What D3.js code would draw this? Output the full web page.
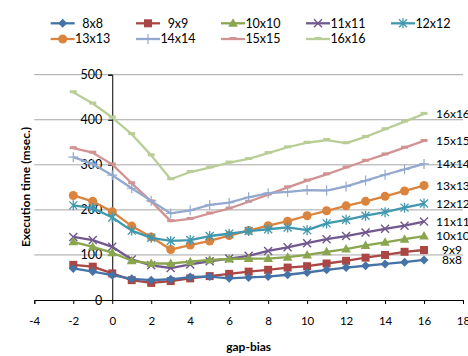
<!DOCTYPE html>
<html>
<head>
<meta charset="utf-8">
<script src="https://cdn.jsdelivr.net/npm/d3@7"></script>
<style>
  html, body { margin: 0; padding: 0; background: #fff; }
  svg { display: block; font-family: Lato, "Open Sans", sans-serif; }
</style>
</head>
<body>
<svg id="chart" width="468" height="356"></svg>
<script>
// gap-bias values shared by every series
const gapBias = [-2, -1, 0, 1, 2, 3, 4, 5, 6, 7, 8, 9, 10, 11, 12, 13, 14, 15, 16];

// execution time (msec.) per block size
const t8x8   = [70, 63, 55, 47, 44, 46, 51, 52, 48, 50, 52, 56, 61, 67, 72, 76, 80, 84, 89];
const t9x9   = [78, 74, 59, 44, 38, 42, 48, 53, 58, 63, 67, 72, 75, 81, 87, 94, 100, 107, 111];
const t10x10 = [129, 118, 105, 87, 81, 81, 85, 89, 91, 92, 92, 95, 100, 107, 113, 121, 128, 135, 142];
const t11x11 = [140, 133, 118, 90, 77, 71, 79, 86, 92, 98, 109, 117, 126, 135, 142, 150, 158, 165, 174];
const t12x12 = [210, 204, 183, 154, 138, 131, 133, 142, 147, 153, 157, 161, 155, 170, 178, 187, 195, 205, 214];
const t13x13 = [232, 219, 196, 164, 140, 112, 122, 131, 143, 154, 165, 175, 187, 198, 209, 219, 230, 242, 254];
const t14x14 = [317, 302, 277, 248, 220, 192, 199, 211, 216, 228, 237, 240, 244, 243, 252, 265, 278, 290, 302];
const t15x15 = [337, 327, 301, 259, 219, 175, 180, 192, 203, 218, 234, 250, 265, 279, 294, 309, 323, 338, 353];
const t16x16 = [461, 436, 405, 368, 321, 268, 284, 294, 305, 313, 326, 339, 349, 355, 348, 362, 379, 396, 413];

const seriesNames = ["8x8", "9x9", "10x10", "11x11", "12x12", "13x13", "14x14", "15x15", "16x16"];
const seriesValues = [t8x8, t9x9, t10x10, t11x11, t12x12, t13x13, t14x14, t15x15, t16x16];
const seriesColors = ["#4572A7", "#AA4643", "#89A54E", "#71588F", "#4198AF", "#DB843D", "#93A9CF", "#D19392", "#B9CD96"];
const seriesMarkers = ["diamond", "square", "triangle", "x", "asterisk", "circle", "plus", "dash", "dash"];

const xTicks = [-4, -2, 0, 2, 4, 6, 8, 10, 12, 14, 16, 18];
const yTicks = [0, 100, 200, 300, 400, 500];

const svg = d3.select("#chart");
const x = d3.scaleLinear().domain([-4, 18]).range([34.3, 463]);
const y = d3.scaleLinear().domain([0, 500]).range([300, 74.7]);

// horizontal gridlines
svg.append("g").selectAll("line").data(yTicks.filter(v => v > 0)).join("line")
  .attr("x1", x(-4)).attr("x2", x(18))
  .attr("y1", d => y(d)).attr("y2", d => y(d))
  .attr("stroke", "#a6a6a6").attr("stroke-width", 1);

// x axis along y = 0
const xAxis = svg.append("g").attr("transform", `translate(0,${y(0)})`)
  .call(d3.axisBottom(x).tickValues(xTicks).tickSize(4).tickPadding(13).tickFormat(d3.format("d")));
xAxis.select(".domain").attr("stroke", "#000");
xAxis.selectAll(".tick line").attr("stroke", "#000");
xAxis.selectAll(".tick text").attr("font-size", 11.5).attr("fill", "#000")
  .attr("font-family", "Lato, sans-serif").text(d => d < 0 ? "-" + Math.abs(d) : d);

// y axis along x = 0
const yAxis = svg.append("g").attr("transform", `translate(${x(0)},0)`)
  .call(d3.axisLeft(y).tickValues(yTicks).tickSize(4).tickPadding(6).tickFormat(d3.format("d")));
yAxis.select(".domain").attr("stroke", "#000");
yAxis.selectAll(".tick line").attr("stroke", "#000");
yAxis.selectAll(".tick text").attr("font-size", 12.5).attr("fill", "#000")
  .attr("font-family", "Lato, sans-serif");

// axis titles
svg.append("text").attr("x", x(7)).attr("y", 351)
  .attr("text-anchor", "middle").attr("font-size", 12).attr("font-weight", "bold")
  .text("gap-bias");
svg.append("text").attr("transform", `translate(30,187) rotate(-90)`)
  .attr("text-anchor", "middle").attr("font-size", 12).attr("font-weight", "bold")
  .text("Execution time (msec.)");

// marker drawing
function drawMarker(g, type, color) {
  switch (type) {
    case "diamond":
      g.append("path").attr("d", "M0,-4.5L4.5,0L0,4.5L-4.5,0Z").attr("fill", color);
      break;
    case "square":
      g.append("rect").attr("x", -4).attr("y", -4).attr("width", 8).attr("height", 8).attr("fill", color);
      break;
    case "triangle":
      g.append("path").attr("d", "M0,-5L4.8,3.5L-4.8,3.5Z").attr("fill", color);
      break;
    case "x":
      g.append("path").attr("d", "M-4,-4L4,4M-4,4L4,-4").attr("stroke", color).attr("stroke-width", 1.4).attr("fill", "none");
      break;
    case "asterisk":
      g.append("path").attr("d", "M-4,-4L4,4M-4,4L4,-4M0,-5L0,5").attr("stroke", color).attr("stroke-width", 1.3).attr("fill", "none");
      break;
    case "circle":
      g.append("circle").attr("r", 4.5).attr("fill", color);
      break;
    case "plus":
      g.append("path").attr("d", "M-5,0L5,0M0,-5L0,5").attr("stroke", color).attr("stroke-width", 1.2).attr("fill", "none");
      break;
    case "dash":
      g.append("rect").attr("x", -3.5).attr("y", -2).attr("width", 7).attr("height", 3).attr("fill", color);
      break;
  }
}

const line = d3.line().x(d => x(d[0])).y(d => y(d[1]));

// series lines, markers and end labels (drawn from the largest block down)
seriesNames.map((name, i) => i).reverse().forEach(i => {
  const pts = gapBias.map((g, k) => [g, seriesValues[i][k]]);
  const g = svg.append("g");
  g.append("path").datum(pts).attr("d", line)
    .attr("fill", "none").attr("stroke", seriesColors[i])
    .attr("stroke-width", 2.3).attr("stroke-linejoin", "round");
  g.selectAll("g.m").data(pts).join("g").attr("class", "m")
    .attr("transform", d => `translate(${x(d[0])},${y(d[1])})`)
    .each(function () { drawMarker(d3.select(this), seriesMarkers[i], seriesColors[i]); });
  const last = pts[pts.length - 1];
  svg.append("text")
    .attr("x", x(last[0]) + (seriesNames[i].length === 3 ? 18 : 12))
    .attr("y", y(last[1]))
    .attr("dy", "0.35em").attr("font-size", 12).attr("fill", "#000")
    .text(seriesNames[i]);
});

// legend: two rows, five columns
const legendCols = [50.7, 136, 221, 306, 391];
const legendRows = [23.3, 39];
seriesNames.forEach((name, i) => {
  const cx = legendCols[i % 5], cy = legendRows[Math.floor(i / 5)];
  const g = svg.append("g").attr("transform", `translate(${cx},${cy})`);
  g.append("line").attr("x1", 0).attr("x2", 24).attr("y1", 0).attr("y2", 0)
    .attr("stroke", seriesColors[i]).attr("stroke-width", 2.3);
  const m = g.append("g").attr("transform", "translate(12,0)");
  drawMarker(m, seriesMarkers[i], seriesColors[i]);
  g.append("text").attr("x", 42).attr("y", 0).attr("dy", "0.35em")
    .attr("text-anchor", "middle").attr("font-size", 12.5).attr("fill", "#000")
    .text(name);
});
</script>
</body>
</html>
